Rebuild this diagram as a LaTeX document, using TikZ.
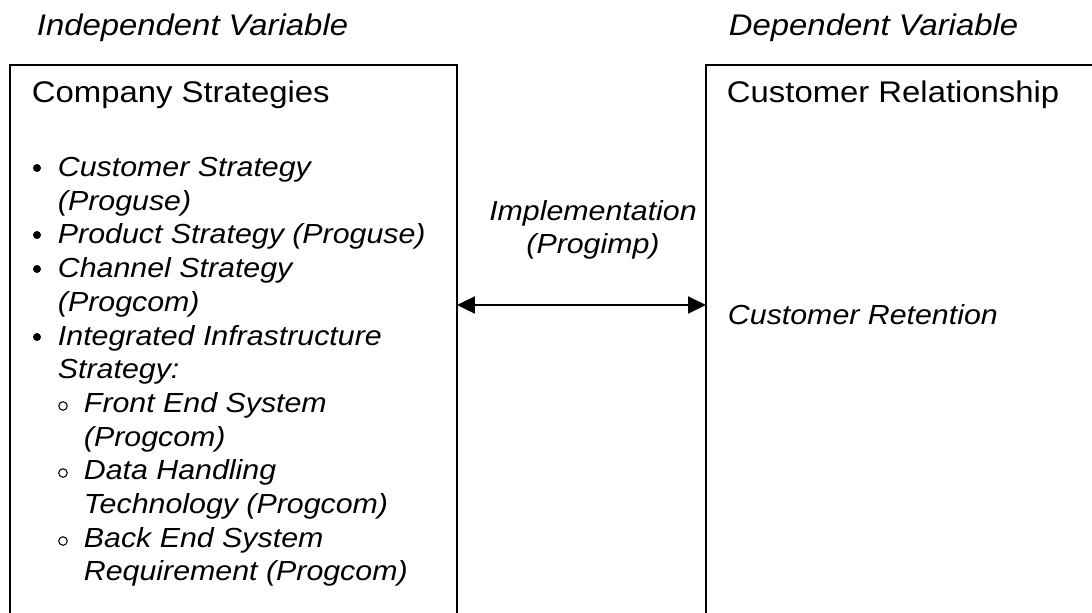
\documentclass[tikz,border=0pt]{standalone}
\usepackage{fontspec}
\setmainfont{Liberation Sans}[FakeStretch=1.1]
\usetikzlibrary{arrows.meta, positioning}

\begin{document}
\begin{tikzpicture}[x=0.02cm, y=-0.02cm, line width=1.1pt,
    >={Triangle[length=0.36cm, width=0.34cm]},
    varname/.style={font=\fontsize{17}{20}\selectfont\itshape, anchor=base west, inner sep=0pt},
    boxtitle/.style={font=\fontsize{17}{20}\selectfont, anchor=base west, inner sep=0pt},
    itemline/.style={font=\fontsize{15.7}{19}\selectfont\itshape, anchor=base west, inner sep=0pt},
    linkline/.style={font=\fontsize{15.7}{19}\selectfont\itshape, anchor=base, inner sep=0pt},
    varbox/.style={draw, anchor=north west, outer sep=0pt, minimum height=12.6cm},
    dot/.style={circle, fill, inner sep=0pt, minimum size=0.16cm},
    ring/.style={circle, draw, line width=0.6pt, inner sep=0pt, minimum size=0.17cm}]
    \useasboundingbox (0,0) rectangle (1092,612);
    \clip (0,0) rectangle (1092,612);

    % the two variables
    \node[varname] (indep) at (36,35) {Independent Variable};
    \node[varname] (dep) at (728,35) {Dependent Variable};
    \node[varbox, minimum width=8.94cm] (strategies) at (10,65) {};
    \node[varbox, minimum width=8.2cm] (relationship) at (706,65) {};
    \node[boxtitle] (strathead) at (31,102) {Company Strategies};
    \node[boxtitle] (relhead) at (726,102) {Customer Relationship};

    % strategy items
    \node[itemline] (cust) at (57,176) {Customer Strategy};
    \node[itemline] (custb) at (57,210) {(Proguse)};
    \node[itemline] (prod) at (57,243) {Product Strategy (Proguse)};
    \node[itemline] (chan) at (57,277) {Channel Strategy};
    \node[itemline] (chanb) at (57,311) {(Progcom)};
    \node[itemline] (infra) at (57,345) {Integrated Infrastructure};
    \node[itemline] (infrab) at (57,378) {Strategy:};
    \node[itemline] (front) at (83,412) {Front End System};
    \node[itemline] (frontb) at (83,446) {(Progcom)};
    \node[itemline] (data) at (83,479) {Data Handling};
    \node[itemline] (datab) at (83,513) {Technology (Progcom)};
    \node[itemline] (back) at (83,547) {Back End System};
    \node[itemline] (backb) at (83,580) {Requirement (Progcom)};

    \node[dot] (d1) at (37,168) {};
    \node[dot] (d2) at (37,235) {};
    \node[dot] (d3) at (37,269) {};
    \node[dot] (d4) at (37,337) {};
    \node[ring] (r1) at (63,406) {};
    \node[ring] (r2) at (63,473) {};
    \node[ring] (r3) at (63,541) {};

    % link between them
    \node[linkline] (impl) at (593,220) {Implementation};
    \node[linkline] (implb) at (593,253) {(Progimp)};
    \coordinate (arrowrow) at (0,305);
    \draw[<->] (strategies.east |- arrowrow) -- (relationship.west |- arrowrow);

    \node[itemline] (retention) at (727,324) {Customer Retention};
\end{tikzpicture}
\end{document}
